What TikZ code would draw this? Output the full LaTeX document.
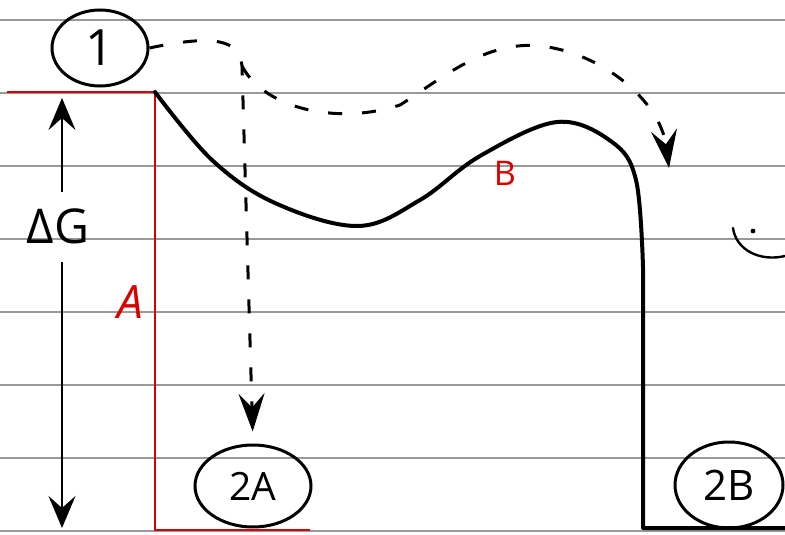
\documentclass[tikz,border=0pt]{standalone}
\usepackage{fontspec}
\setmainfont{Open Sans}
\usetikzlibrary{arrows.meta,shapes.geometric}
\begin{document}
\begin{tikzpicture}[x=1pt,y=-1pt,
  paper/.style={draw=black!40, line width=1.2pt},
  redl/.style={draw=red!85!black, line width=2.2pt},
  curve/.style={line width=4pt, line join=round, line cap=round},
  state/.style={ellipse, draw, line width=3pt, inner sep=0pt},
  dashpath/.style={line width=3pt, dash pattern=on 14pt off 20pt},
  tipA/.style={-{Stealth[length=38pt,width=26pt,inset=14pt]}},
  solidarrow/.style={line width=2.4pt, -{Stealth[length=32pt,width=27pt,inset=12pt]}},
  redtext/.style={text=red!85!black, inner sep=0pt}
]
\useasboundingbox (0,0) rectangle (785,535);
\fill[white] (0,0) rectangle (785,535);
% paper lines
\foreach \yy in {20,93,166,239,312,385,458,531}
  \draw[paper] (0,\yy) -- (785,\yy);
% red lines
\draw[redl] (7,92) -- (155,92) -- (155,530) -- (310,530);
% energy curve
\draw[curve] plot[smooth, tension=0.6] coordinates {(155,92) (212,160) (275,203) (358,226) (420,200) (480,156) (557,122) (612,142) (636,180) (643,267)} -- (643,528) -- (785,528);
% nodes
\node[state, minimum width=96pt, minimum height=76pt] (n1) at (100,48) {\fontsize{50}{50}\selectfont 1};
\node[state, minimum width=116pt, minimum height=82pt] (n2A) at (253,486) {\fontsize{39}{39}\selectfont 2A};
\node[state, minimum width=108pt, minimum height=86pt] (n2B) at (729,485) {\fontsize{42}{42}\selectfont 2B};
\node[inner sep=0pt] (dg) at (58,226) {\fontsize{48}{48}\selectfont ΔG};
\node[redtext] (la) at (130,302) {\fontsize{46}{46}\selectfont\itshape A};
\node[redtext] (lb) at (505,173) {\fontsize{34}{34}\selectfont B};
% Delta G arrows
\coordinate (dgtop) at (62,98);
\coordinate (dgbot) at (62,528);
\draw[solidarrow] (62,192) -- (dgtop);
\draw[solidarrow] (62,262) -- (dgbot);
% dashed paths
\coordinate (br) at (242,66);
\coordinate (tipB) at (669,168);
\draw[dashpath, tipA, shorten >=12pt] (n1.east) .. controls (215,34) and (240,40) .. (br) -- (n2A.north);
\draw[dashpath, tipA] (br) .. controls (265,110) and (340,125) .. (400,105) .. controls (440,80) and (485,40) .. (540,46) .. controls (600,52) and (660,100) .. (tipB);
% small face mark at right edge
\draw[line width=2.4pt, line cap=round] (733,228) .. controls (736,250) and (760,262) .. (785,256);
\fill (753,231) circle (2.4pt);
\end{tikzpicture}
\end{document}
